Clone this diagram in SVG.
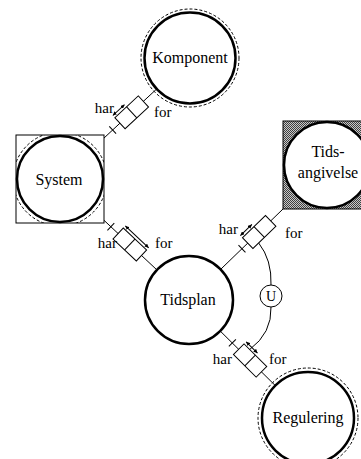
<svg xmlns="http://www.w3.org/2000/svg" width="361" height="459" viewBox="0 0 361 459" font-family="'Liberation Serif', 'DejaVu Serif', serif">
<defs>
<style>
.ln{stroke:#000;stroke-width:1;fill:none}
.ent{fill:#fff;stroke:#000;stroke-width:2.5}
.dash{fill:none;stroke:#000;stroke-width:1;stroke-dasharray:3 2}
.sq{fill:#fff;stroke:#000;stroke-width:1}
.box{fill:#fff;stroke:#000;stroke-width:1}
.bar{stroke:#000;stroke-width:1;fill:none;marker-start:url(#ah);marker-end:url(#ah)}
.nm{font-family:'Liberation Serif', 'DejaVu Serif', serif;font-size:16px;text-anchor:middle;fill:#000}
.lb{font-family:'Liberation Serif', 'DejaVu Serif', serif;font-size:15px;fill:#000}
</style>
<pattern id="hatch" width="2" height="2" patternUnits="userSpaceOnUse">
<rect width="2" height="2" fill="#c8c8c8"/><rect width="1" height="1" fill="#404040"/><rect x="1" y="1" width="1" height="1" fill="#404040"/>
</pattern>
<marker id="ah" viewBox="0 0 4 4" refX="4" refY="2" markerWidth="4" markerHeight="4" markerUnits="userSpaceOnUse" orient="auto-start-reverse"><path d="M0,0L4,2L0,4z"/></marker>
<clipPath id="sysclip"><rect x="16" y="135" width="88" height="88"/></clipPath>
</defs>
<g id="connectors">
<line class="ln" x1="91.5" y1="149.7" x2="156.3" y2="89.3"/>
<line class="ln" x1="91.3" y1="208.4" x2="157" y2="270"/>
<line class="ln" x1="220.6" y1="269.4" x2="283" y2="209"/>
<line class="ln" x1="220.2" y1="331" x2="275.3" y2="385.6"/>
<path class="ln" d="M258.7,243 Q272,260 271,285 M271,307 Q272,333 249.7,349.5"/>
</g>
<g id="komponent">
<circle class="dash" cx="190" cy="58" r="49"/>
<circle class="ent" cx="190" cy="58" r="45.5"/>
<text class="nm" x="190" y="63">Komponent</text>
</g>
<g id="system">
<rect class="sq" x="16" y="135" width="88" height="88"/>
<circle class="dash" cx="60" cy="179" r="47" clip-path="url(#sysclip)"/>
<circle class="ent" cx="60" cy="179" r="43"/>
<text class="nm" x="59" y="185">System</text>
</g>
<g id="tidsangivelse">
<rect x="283" y="121" width="88" height="88" fill="url(#hatch)" stroke="#000" stroke-width="1"/>
<circle class="ent" cx="327" cy="165" r="43"/>
<text class="nm" x="328" y="157">Tids-</text>
<text class="nm" x="328" y="178">angivelse</text>
</g>
<g id="tidsplan">
<circle class="ent" cx="189" cy="300" r="44"/>
<text class="nm" x="188" y="305">Tidsplan</text>
</g>
<g id="regulering">
<circle class="dash" cx="308" cy="418" r="50"/>
<circle class="ent" cx="308" cy="418" r="46"/>
<text class="nm" x="308" y="423">Regulering</text>
</g>
<g id="u">
<circle cx="271" cy="296" r="11" fill="#fff" stroke="#000" stroke-width="1"/>
<text class="nm" x="271" y="301" style="font-size:14px">U</text>
</g>
<g id="rel-system-komponent">
<g transform="translate(131.7,112.3) rotate(-42.9)">
<rect class="box" x="-16" y="-7.5" width="32" height="15"/>
<line class="ln" x1="0" y1="-7.5" x2="0" y2="7.5"/>
<line class="bar" x1="-16" y1="-10.5" x2="0" y2="-10.5"/>
<line class="ln" x1="-26" y1="-5" x2="-26" y2="5"/>
</g>
<text class="lb" x="114" y="113" text-anchor="end">har</text>
<text class="lb" x="154" y="117">for</text>
</g>
<g id="rel-system-tidsplan">
<g transform="translate(129.8,244.5) rotate(43.2)">
<rect class="box" x="-16" y="-7.5" width="32" height="15"/>
<line class="ln" x1="0" y1="-7.5" x2="0" y2="7.5"/>
<line class="bar" x1="-16" y1="-10.5" x2="16" y2="-10.5"/>
<line class="ln" x1="-26" y1="-5" x2="-26" y2="5"/>
</g>
<text class="lb" x="117" y="248" text-anchor="end">har</text>
<text class="lb" x="155" y="248">for</text>
</g>
<g id="rel-tidsplan-tidsangivelse">
<g transform="translate(259.2,232) rotate(-44.1)">
<rect class="box" x="-16" y="-7.5" width="32" height="15"/>
<line class="ln" x1="0" y1="-7.5" x2="0" y2="7.5"/>
<line class="bar" x1="-16" y1="-10.5" x2="0" y2="-10.5"/>
<line class="ln" x1="-24" y1="-5" x2="-24" y2="5"/>
</g>
<text class="lb" x="238" y="234" text-anchor="end">har</text>
<text class="lb" x="285" y="238">for</text>
</g>
<g id="rel-tidsplan-regulering">
<g transform="translate(250.1,360.5) rotate(44.8)">
<rect class="box" x="-16" y="-7.5" width="32" height="15"/>
<line class="ln" x1="0" y1="-7.5" x2="0" y2="7.5"/>
<line class="bar" x1="-16" y1="-10.5" x2="0" y2="-10.5"/>
<line class="ln" x1="-25" y1="-5" x2="-25" y2="5"/>
</g>
<text class="lb" x="232" y="364" text-anchor="end">har</text>
<text class="lb" x="269" y="364">for</text>
</g>
</svg>
